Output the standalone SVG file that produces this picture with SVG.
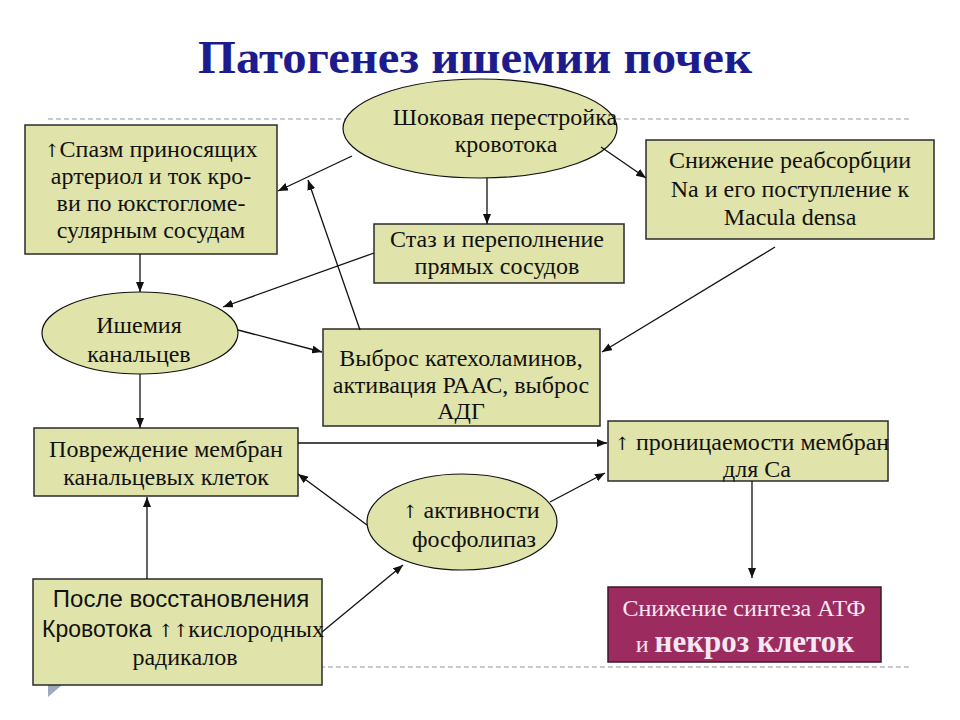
<svg xmlns="http://www.w3.org/2000/svg" width="960" height="720" viewBox="0 0 960 720">
<style>
.bg{fill:#ffffff}
.dash{stroke:#b8bcc4;stroke-width:1.5;stroke-dasharray:5 3;fill:none}
.box{fill:#e0e4aa;stroke:#2b2b2b;stroke-width:1.5}
.ell{fill:#e0e4aa;stroke:#111111;stroke-width:1.2}
.t{font-family:"Liberation Serif","DejaVu Serif","Times New Roman",serif;font-size:24px;fill:#111111;text-anchor:middle}
.s{font-family:"Liberation Sans","DejaVu Sans",Arial,sans-serif}
.ar{font-family:"DejaVu Serif","Liberation Serif",serif;font-size:18px}
.title{font-family:"Liberation Serif","Times New Roman",serif;font-size:46px;font-weight:bold;fill:#1c1c8f;text-anchor:middle}
.atp{fill:#9c2b5f;stroke:#3a1a2a;stroke-width:1.5}
.ta{fill:#f5e8f2}
.conn line{stroke:#111111;stroke-width:1.3;marker-end:url(#ah)}
</style>
<defs>
<marker id="ah" markerUnits="userSpaceOnUse" markerWidth="11" markerHeight="8" refX="10" refY="4" orient="auto">
<path d="M0,0 L10,4 L0,8 z" fill="#111111"/>
</marker>
</defs>
<rect class="bg" x="0" y="0" width="960" height="720"/>
<g id="decor">
<line class="dash" x1="48" y1="119" x2="912" y2="119"/>
<line class="dash" x1="48" y1="667" x2="912" y2="667"/>
<polygon points="48,673 62,685 48,697" fill="#9aabbd"/>
</g>
<g id="title"><text class="title" x="475" y="73" textLength="554" lengthAdjust="spacingAndGlyphs">Патогенез ишемии почек</text></g>
<g id="n-shock">
<ellipse class="ell" cx="480" cy="128.5" rx="137" ry="49.5"/>
<text class="t" x="505" y="125">Шоковая перестройка</text>
<text class="t" x="506" y="152">кровотока</text>
</g>
<g id="n-spasm">
<rect class="box" x="25" y="125" width="252" height="129"/>
<text class="t" x="151" y="157"><tspan class="ar">↑</tspan>Спазм приносящих</text>
<text class="t" x="151" y="184">артериол и ток кро-</text>
<text class="t" x="151" y="211">ви по юкстогломе-</text>
<text class="t" x="151" y="238">сулярным сосудам</text>
</g>
<g id="n-stasis">
<rect class="box" x="374" y="224" width="250" height="59"/>
<text class="t" x="497" y="247">Стаз и переполнение</text>
<text class="t" x="497" y="274">прямых сосудов</text>
</g>
<g id="n-na">
<rect class="box" x="646" y="140" width="288" height="99"/>
<text class="t" x="790" y="168">Снижение реабсорбции</text>
<text class="t" x="790" y="197">Na и его поступление к</text>
<text class="t" x="790" y="225">Macula densa</text>
</g>
<g id="n-isch">
<ellipse class="ell" cx="140" cy="333" rx="98" ry="41"/>
<text class="t" x="139" y="333">Ишемия</text>
<text class="t" x="139" y="362">канальцев</text>
</g>
<g id="n-release">
<rect class="box" x="323" y="329" width="277" height="97"/>
<text class="t" x="461" y="366">Выброс катехоламинов,</text>
<text class="t" x="461" y="393">активация РААС, выброс</text>
<text class="t" x="461" y="419">АДГ</text>
</g>
<g id="n-damage">
<rect class="box" x="34" y="428" width="264" height="68"/>
<text class="t" x="166" y="457">Повреждение мембран</text>
<text class="t" x="166" y="485">канальцевых клеток</text>
</g>
<g id="n-perm">
<rect class="box" x="608" y="421" width="280" height="60"/>
<text class="t" x="752" y="450"><tspan class="ar">↑</tspan> проницаемости мембран</text>
<text class="t" x="757" y="477">для Са</text>
</g>
<g id="n-phos">
<ellipse class="ell" cx="462" cy="522" rx="95" ry="48"/>
<text class="t" x="471" y="518"><tspan class="ar">↑</tspan> активности</text>
<text class="t" x="474" y="547">фосфолипаз</text>
</g>
<g id="n-after">
<rect class="box" x="33" y="579" width="289" height="106"/>
<text class="t s" x="181" y="607" font-size="23">После восстановления</text>
<text class="t" x="183" y="637"><tspan class="s" font-size="23">Кровотока </tspan><tspan class="ar">↑↑</tspan><tspan>кислородных</tspan></text>
<text class="t" x="185" y="665">радикалов</text>
</g>
<g id="n-atp">
<rect class="atp" x="608" y="587" width="273" height="75"/>
<text class="t ta" x="744" y="616">Снижение синтеза АТФ</text>
<text class="t ta" x="745" y="652">и <tspan font-weight="bold" font-size="31">некроз клеток</tspan></text>
</g>
<g id="connectors" class="conn">
<line x1="352" y1="156" x2="278" y2="191"/>
<line x1="360" y1="330" x2="308" y2="180"/>
<line x1="487" y1="178" x2="487" y2="224"/>
<line x1="601" y1="147" x2="646" y2="178"/>
<line x1="374" y1="253" x2="223" y2="307"/>
<line x1="140" y1="254" x2="140" y2="292"/>
<line x1="238" y1="330" x2="322" y2="352"/>
<line x1="775" y1="247" x2="602" y2="352"/>
<line x1="140" y1="374" x2="140" y2="428"/>
<line x1="298" y1="443" x2="607" y2="443"/>
<line x1="367" y1="525" x2="298" y2="474"/>
<line x1="550" y1="502" x2="605" y2="473"/>
<line x1="147" y1="579" x2="147" y2="497"/>
<line x1="322" y1="632" x2="403" y2="565"/>
<line x1="752" y1="481" x2="752" y2="578"/>
</g>
</svg>
